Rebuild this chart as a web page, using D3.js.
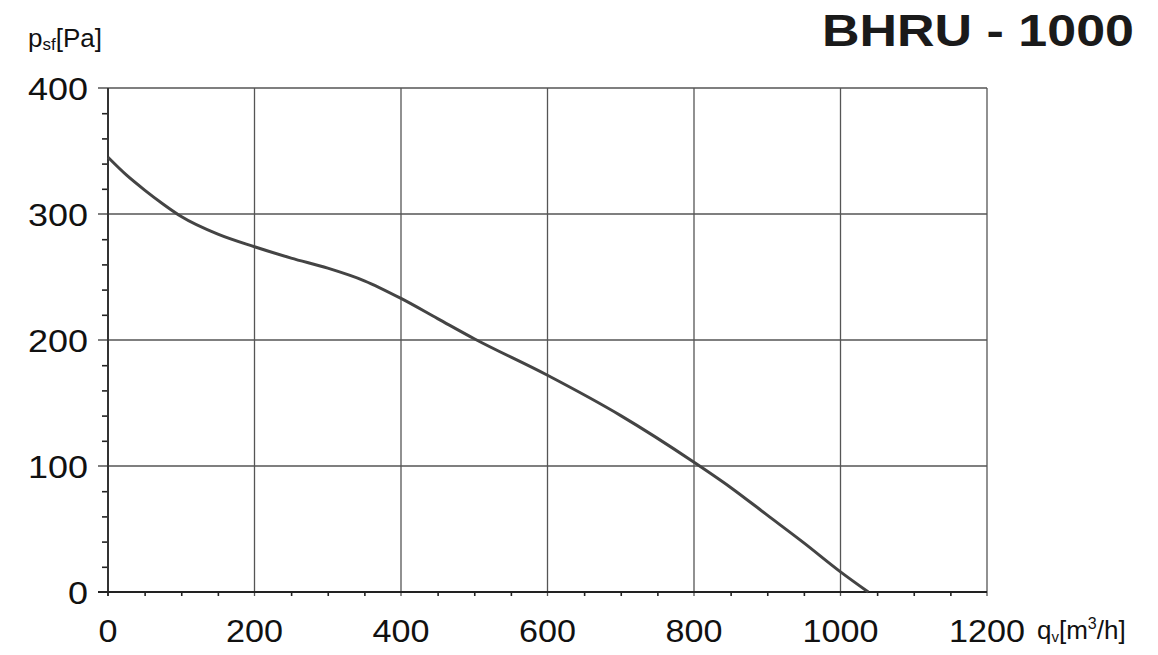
<!DOCTYPE html>
<html lang="en">
<head>
    <meta charset="UTF-8">
    <title>BHRU - 1000</title>
    <style>
        body { margin: 0; background: #fff; }
        svg { display: block; font-family: "Liberation Sans", Arial, sans-serif; }
        .grid line { stroke: #555; stroke-width: 1.3; }
        .curve { fill: none; stroke: #444; stroke-width: 3; }
        .tick-label { fill: #111; font-size: 32px; }
    </style>
</head>
<body>
    <svg id="chart" width="1158" height="655"></svg>
    <script src="https://d3js.org/d3.v7.min.js"></script>
    <script>
        // curve: flow q [m3/h] vs static pressure p [Pa]
        const flow = [0, 25, 50, 75, 100, 150, 200, 250, 300, 350, 400, 450, 500, 600, 700, 800, 850, 900, 950, 1000, 1038];
        const pressure = [345, 331, 319, 308, 298, 284, 274, 265, 257, 247, 233, 217, 201, 172, 140, 103, 83, 61, 39, 16, 0];

        const xTicks = [0, 200, 400, 600, 800, 1000, 1200];
        const yTicks = [0, 100, 200, 300, 400];
        const xMinor = d3.range(50, 1200, 50).filter(v => v % 200 !== 0);
        const yMinor = d3.range(20, 400, 20).filter(v => v % 100 !== 0);

        const svg = d3.select('#chart');

        const x = d3.scaleLinear().domain([0, 1200]).range([108, 987]);
        const y = d3.scaleLinear().domain([0, 400]).range([592, 88]);

        const grid = svg.append('g').attr('class', 'grid');

        // horizontal grid, sticking out 10px left of the axis
        grid.selectAll('.h')
            .data(yTicks.filter(v => v > 0))
            .join('line')
            .attr('x1', x(0) - 10)
            .attr('x2', x(1200))
            .attr('y1', d => y(d))
            .attr('y2', d => y(d));

        // vertical grid
        grid.selectAll('.v')
            .data(xTicks.filter(v => v > 0))
            .join('line')
            .attr('x1', d => x(d))
            .attr('x2', d => x(d))
            .attr('y1', y(400))
            .attr('y2', y(0) + 4);

        // axes with minor ticks
        const yAxis = d3.axisLeft(y).tickValues(yMinor).tickSize(6).tickFormat('');
        const yG = svg.append('g')
            .attr('transform', `translate(${x(0)},0)`)
            .call(yAxis);
        yG.select('.domain').remove();
        yG.selectAll('line').attr('stroke', '#222').attr('stroke-width', 1.6);

        const xAxis = d3.axisBottom(x).tickValues(xMinor).tickSize(4).tickFormat('');
        const xG = svg.append('g')
            .attr('transform', `translate(0,${y(0)})`)
            .call(xAxis);
        xG.select('.domain').remove();
        xG.selectAll('line').attr('stroke', '#222').attr('stroke-width', 1.6);

        svg.append('line')
            .attr('x1', x(0)).attr('x2', x(0))
            .attr('y1', y(400)).attr('y2', y(0) + 4)
            .attr('stroke', '#333').attr('stroke-width', 2);
        svg.append('line')
            .attr('x1', x(0) - 10).attr('x2', x(1200))
            .attr('y1', y(0)).attr('y2', y(0))
            .attr('stroke', '#222').attr('stroke-width', 2);

        // tick labels
        svg.selectAll('.ylab')
            .data(yTicks)
            .join('text')
            .attr('class', 'tick-label')
            .attr('x', x(0) - 20)
            .attr('y', d => y(d))
            .attr('dy', '0.36em')
            .attr('text-anchor', 'end')
            .attr('textLength', d => String(d).length * 20)
            .attr('lengthAdjust', 'spacingAndGlyphs')
            .text(d => d);

        svg.selectAll('.xlab')
            .data(xTicks)
            .join('text')
            .attr('class', 'tick-label')
            .attr('x', d => x(d))
            .attr('y', 642)
            .attr('text-anchor', 'middle')
            .attr('textLength', d => String(d).length * 19)
            .attr('lengthAdjust', 'spacingAndGlyphs')
            .text(d => d);

        // curve
        const pts = flow.map((q, i) => [q, pressure[i]]);
        const line = d3.line()
            .x(d => x(d[0]))
            .y(d => y(d[1]))
            .curve(d3.curveMonotoneX);
        svg.append('path')
            .datum(pts)
            .attr('class', 'curve')
            .attr('d', line);

        // axis titles
        const yt = svg.append('text')
            .attr('x', 28)
            .attr('y', 47)
            .attr('fill', '#111')
            .attr('font-size', 26);
        yt.append('tspan').text('p');
        yt.append('tspan').attr('font-size', 17).attr('dy', 3).text('sf');
        yt.append('tspan').attr('dy', -3).text('[Pa]');

        const xt = svg.append('text')
            .attr('x', 1037)
            .attr('y', 639)
            .attr('fill', '#111')
            .attr('font-size', 26);
        xt.append('tspan').text('q');
        xt.append('tspan').attr('font-size', 15).attr('dy', 3).text('v');
        xt.append('tspan').attr('dy', -3).text('[m');
        xt.append('tspan').attr('font-size', 16).attr('dy', -10).text('3');
        xt.append('tspan').attr('dy', 10).text('/h]');

        // title
        svg.append('text')
            .attr('x', 822)
            .attr('y', 46)
            .attr('fill', '#1a1a1a')
            .attr('font-size', 44)
            .attr('font-weight', 'bold')
            .attr('textLength', 312)
            .attr('lengthAdjust', 'spacingAndGlyphs')
            .text('BHRU - 1000');
    </script>
</body>
</html>
